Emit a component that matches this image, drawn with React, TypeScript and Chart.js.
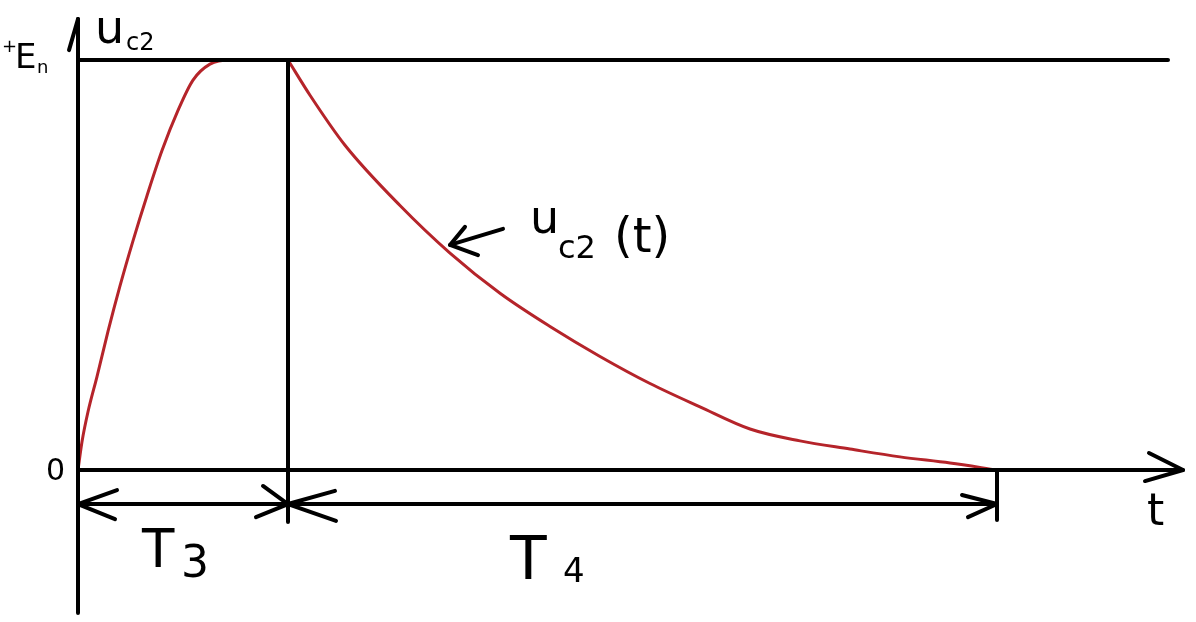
import React, { useEffect, useRef } from "react";
import { Chart, registerables } from "chart.js";

Chart.register(...registerables);

// Curve u_c2(t): time in units (T3 ends at 2.10, T4 ends at 9.19), voltage normalised to E_n = 1
const riseT = [0, 0.04, 0.1, 0.19, 0.3, 0.42, 0.55, 0.69, 0.84, 1.0, 1.15, 1.32, 1.52, 2.1];
const riseU = [0, 0.069, 0.142, 0.228, 0.338, 0.449, 0.559, 0.669, 0.779, 0.877, 0.951, 0.99, 1.0, 1.0];
const decayT = [2.1, 2.32, 2.67, 3.22, 3.72, 4.22, 4.72, 5.22, 5.72, 6.22, 6.72, 7.22, 7.72, 8.22, 8.72, 9.19];
const decayU = [1.0, 0.914, 0.792, 0.645, 0.529, 0.431, 0.35, 0.277, 0.211, 0.154, 0.1, 0.071, 0.051, 0.032, 0.017, 0];

const E_LEVEL = 1;
const T3_END = 2.1;
const T4_END = 9.19;
const DIM_U = -0.083;

// Guide strokes (pairs of t / u lists)
const guideT: number[][] = [
  [0, 0], // y axis
  [-0.09, 0], // y arrow
  [0, 11.05], // x axis
  [10.71, 11.05, 10.67], // x arrow
  [0, 10.9], // E_n level
  [T3_END, T3_END], // end of T3
  [T4_END, T4_END], // end of T4
  [0, T4_END], // dimension line
  [0.39, 0, 0.37], // arrow at origin
  [1.85, T3_END, 1.78], // arrow end T3
  [2.57, T3_END, 2.58], // arrow start T4
  [8.84, T4_END, 8.9], // arrow end T4
  [4.25, 3.72], // pointer to curve
  [3.87, 3.72, 4.0], // pointer head
];
const guideU: number[][] = [
  [1.1, -0.349],
  [1.024, 1.1],
  [0, 0],
  [0.0415, 0, -0.027],
  [E_LEVEL, E_LEVEL],
  [E_LEVEL, -0.127],
  [0, -0.122],
  [DIM_U, DIM_U],
  [-0.049, DIM_U, -0.12],
  [-0.039, DIM_U, -0.115],
  [-0.051, DIM_U, -0.124],
  [-0.061, DIM_U, -0.115],
  [0.588, 0.549],
  [0.593, 0.549, 0.524],
];

// Text pieces: text, t, u, font size
const labelText = ["+", "E", "n", "u", "c2", "u", "c2", "(t)", "0", "t", "T", "3", "T", "4"];
const labelT = [-0.76, -0.63, -0.41, 0.17, 0.48, 4.52, 4.8, 5.36, -0.32, 10.69, 0.64, 1.03, 4.32, 4.85];
const labelU = [1.0195, 0.9805, 0.968, 1.0415, 1.0244, 0.578, 0.517, 0.532, -0.0244, -0.134, -0.2366, -0.261, -0.266, -0.273];
const labelSize = [18, 34, 18, 46, 24, 46, 32, 48, 30, 44, 53, 44, 60, 34];

const W = 1196;
const H = 622;

const textPlugin = {
  id: "handLabels",
  afterDatasetsDraw(chart: any) {
    const { ctx, scales } = chart;
    ctx.save();
    ctx.fillStyle = "#000";
    ctx.textBaseline = "alphabetic";
    ctx.textAlign = "left";
    labelText.forEach((txt, i) => {
      ctx.font = `${labelSize[i]}px "DejaVu Sans"`;
      const x = scales.x.getPixelForValue(labelT[i]);
      const y = scales.y.getPixelForValue(labelU[i]);
      ctx.fillText(txt, x, y);
    });
    ctx.restore();
  },
};

export default function App() {
  const ref = useRef<HTMLCanvasElement>(null);
  useEffect(() => {
    document.body.style.margin = "0";
    const pts = (ts: number[], us: number[]) => ts.map((t, i) => ({ x: t, y: us[i] }));
    const guides = guideT.map((ts, i) => ({
      data: pts(ts, guideU[i]),
      showLine: true,
      borderColor: "#000",
      borderWidth: 4,
      borderCapStyle: "round" as const,
      borderJoinStyle: "round" as const,
      pointRadius: 0,
      tension: 0,
    }));
    const chart = new Chart(ref.current!, {
      type: "scatter",
      data: {
        datasets: [
          ...guides,
          {
            data: pts(riseT, riseU),
            showLine: true,
            borderColor: "#b5242a",
            borderWidth: 3,
            pointRadius: 0,
            cubicInterpolationMode: "monotone",
          },
          {
            data: pts(decayT, decayU),
            showLine: true,
            borderColor: "#b5242a",
            borderWidth: 3,
            pointRadius: 0,
            cubicInterpolationMode: "monotone",
          },
        ],
      },
      options: {
        animation: false,
        responsive: false,
        layout: { padding: 0 },
        plugins: { legend: { display: false }, tooltip: { enabled: false } },
        scales: {
          x: { type: "linear", display: false, min: -0.78, max: 11.18 },
          y: { type: "linear", display: false, min: -0.3707, max: 1.1463 },
        },
      },
      plugins: [textPlugin],
    });
    return () => chart.destroy();
  }, []);
  return (
    <div style={{ position: "fixed", left: 0, top: 0, width: W, height: H, background: "#fff" }}>
      <canvas ref={ref} width={W} height={H} style={{ width: W, height: H }} />
    </div>
  );
}
